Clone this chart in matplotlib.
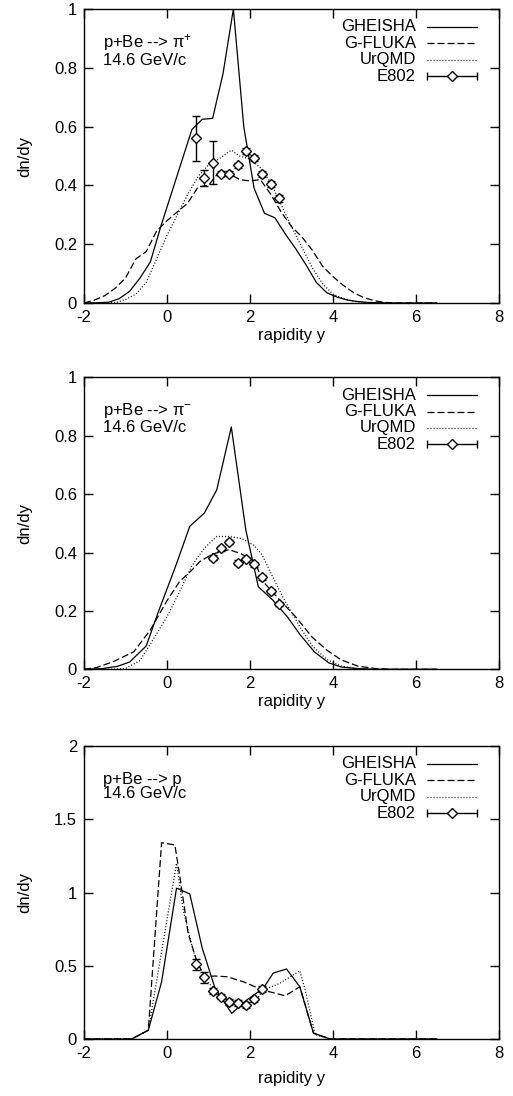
import numpy as np
import matplotlib
matplotlib.use('Agg')
import matplotlib.pyplot as plt
from matplotlib.ticker import FuncFormatter

plt.rcParams['font.family'] = ['Liberation Sans', 'DejaVu Sans']
plt.rcParams['mathtext.fontset'] = 'custom'
plt.rcParams['mathtext.rm'] = 'Liberation Sans'
plt.rcParams['mathtext.it'] = 'Liberation Sans:italic'

## ---- p+Be --> pi+ ----
pip_gh_x = [-2.0, -1.65, -1.4, -1.15, -0.9, -0.65, -0.4, -0.15, 0.1, 0.35, 0.6, 0.85, 1.1, 1.35, 1.6,
            1.85, 2.1, 2.35, 2.6, 2.85, 3.1, 3.35, 3.6, 3.85, 4.1, 4.35, 4.6, 4.85, 5.1, 5.5, 6.0, 6.5]
pip_gh_y = [0.0, 0.001, 0.003, 0.015, 0.04, 0.085, 0.14, 0.26, 0.37, 0.48, 0.59, 0.625, 0.628, 0.78, 1.0,
            0.6, 0.39, 0.305, 0.29, 0.235, 0.185, 0.13, 0.07, 0.035, 0.02, 0.01, 0.005, 0.002, 0.001, 0.0, 0.0, 0.0]
pip_gf_x = [-2.0, -1.75, -1.5, -1.25, -1.0, -0.75, -0.5, -0.25, 0.0, 0.25, 0.5, 0.75, 1.0, 1.25, 1.5,
            1.75, 2.0, 2.25, 2.5, 2.75, 3.0, 3.25, 3.5, 3.75, 4.0, 4.25, 4.5, 4.75, 5.0, 5.25, 5.5, 6.5]
pip_gf_y = [0.0, 0.01, 0.025, 0.05, 0.085, 0.15, 0.175, 0.245, 0.28, 0.31, 0.34, 0.395, 0.40, 0.445, 0.44,
            0.42, 0.415, 0.42, 0.37, 0.31, 0.26, 0.225, 0.18, 0.125, 0.09, 0.06, 0.035, 0.018, 0.008, 0.002, 0.0, 0.0]
pip_uq_x = [-2.0, -1.5, -1.2, -1.0, -0.75, -0.5, -0.25, 0.0, 0.25, 0.5, 0.75, 1.0, 1.25, 1.55, 1.75,
            2.0, 2.25, 2.5, 2.75, 3.0, 3.25, 3.5, 3.75, 4.0, 4.25, 4.5, 4.75, 5.0, 6.5]
pip_uq_y = [0.0, 0.0, 0.003, 0.012, 0.03, 0.07, 0.15, 0.23, 0.30, 0.37, 0.43, 0.47, 0.49, 0.52, 0.5,
            0.49, 0.46, 0.41, 0.335, 0.26, 0.19, 0.12, 0.065, 0.03, 0.015, 0.006, 0.002, 0.0, 0.0]
pip_e8_x = [0.7, 0.9, 1.1, 1.3, 1.5, 1.7, 1.9, 2.1, 2.3, 2.5, 2.7]
pip_e8_y = [0.56, 0.425, 0.477, 0.44, 0.44, 0.468, 0.517, 0.494, 0.44, 0.405, 0.357]
pip_e8_err = [0.077, 0.027, 0.073, 0.008, 0.008, 0.008, 0.01, 0.01, 0.01, 0.01, 0.012]

## ---- p+Be --> pi- ----
pim_gh_x = [-2.0, -1.6, -1.2, -0.9, -0.5, -0.2, 0.2, 0.55, 0.9, 1.2, 1.55, 1.9, 2.2, 2.55, 2.9,
            3.2, 3.55, 3.9, 4.2, 4.55, 5.0, 5.5, 6.0, 6.5]
pim_gh_y = [0.0, 0.002, 0.01, 0.025, 0.08, 0.2, 0.35, 0.49, 0.535, 0.615, 0.83, 0.477, 0.283, 0.237, 0.18,
            0.12, 0.06, 0.022, 0.008, 0.003, 0.0, 0.0, 0.0, 0.0]
pim_gf_x = [-2.0, -1.7, -1.3, -0.8, -0.4, 0.0, 0.3, 0.6, 0.8, 1.1, 1.5, 1.8, 2.1, 2.35, 2.7,
            3.1, 3.5, 3.85, 4.2, 4.6, 5.0, 5.4, 6.5]
pim_gf_y = [0.0, 0.006, 0.026, 0.06, 0.135, 0.235, 0.30, 0.34, 0.37, 0.395, 0.41, 0.395, 0.37, 0.295, 0.24,
            0.18, 0.11, 0.066, 0.032, 0.011, 0.003, 0.0, 0.0]
pim_uq_x = [-2.0, -1.3, -1.0, -0.65, -0.3, 0.0, 0.3, 0.6, 0.9, 1.2, 1.5, 1.8, 2.1, 2.3, 2.5,
            2.8, 3.2, 3.5, 3.85, 4.2, 4.6, 5.0, 6.5]
pim_uq_y = [0.0, 0.0, 0.003, 0.03, 0.11, 0.18, 0.265, 0.355, 0.415, 0.455, 0.455, 0.448, 0.425, 0.39, 0.33,
            0.245, 0.146, 0.08, 0.034, 0.011, 0.002, 0.0, 0.0]
pim_e8_x = [1.1, 1.3, 1.5, 1.7, 1.9, 2.1, 2.3, 2.5, 2.7]
pim_e8_y = [0.383, 0.414, 0.436, 0.365, 0.377, 0.36, 0.315, 0.268, 0.224]
pim_e8_err = [0.008, 0.008, 0.008, 0.008, 0.008, 0.008, 0.008, 0.008, 0.008]

## ---- p+Be --> p ----
pr_gh_x = [-2.0, -0.85, -0.45, -0.13, 0.23, 0.55, 0.85, 1.16, 1.56, 1.92, 2.32, 2.56, 2.88, 3.2, 3.53, 3.93, 6.5]
pr_gh_y = [0.0, 0.0, 0.06, 0.39, 1.03, 0.99, 0.62, 0.345, 0.175, 0.266, 0.346, 0.45, 0.478, 0.357, 0.04, 0.0, 0.0]
pr_gf_x = [-2.0, -0.85, -0.45, -0.13, 0.19, 0.31, 0.51, 0.71, 0.9, 1.15, 1.45, 1.85, 2.3, 2.85, 3.2, 3.53, 3.93, 6.5]
pr_gf_y = [0.0, 0.0, 0.06, 1.34, 1.325, 1.11, 0.72, 0.54, 0.425, 0.43, 0.425, 0.39, 0.335, 0.295, 0.357, 0.04, 0.0, 0.0]
pr_uq_x = [-2.0, -0.85, -0.45, 0.23, 0.39, 0.59, 0.71, 0.95, 1.2, 1.52, 1.84, 2.16, 2.32, 2.72, 3.2, 3.33, 3.57, 3.93, 6.5]
pr_uq_y = [0.0, 0.0, 0.06, 1.2, 0.88, 0.65, 0.53, 0.4, 0.32, 0.255, 0.24, 0.27, 0.335, 0.38, 0.466, 0.335, 0.03, 0.0, 0.0]
pr_e8_x = [0.7, 0.9, 1.1, 1.3, 1.5, 1.7, 1.9, 2.1, 2.3]
pr_e8_y = [0.51, 0.42, 0.33, 0.29, 0.25, 0.245, 0.235, 0.27, 0.34]
pr_e8_err = [0.036, 0.035, 0.02, 0.02, 0.02, 0.02, 0.02, 0.02, 0.02]

titles = [u'p+Be --> \u03c0$^{+}$', u'p+Be --> \u03c0$^{-}$', 'p+Be --> p']
ymax = [1.0, 1.0, 2.0]
ystep = [0.2, 0.2, 0.5]
xlab_off = [-0.085, -0.085, -0.11]

LW = 0.9
DASH = (5.6, 2.4)
DOT = (0.8, 1.6)
FS = 12
MS = 5.0


def draw_panel(ax, gh, gf, uq, e8, title, top, step, xoff):
    ax.plot(gh[0], gh[1], color='k', lw=LW)
    ax.plot(gf[0], gf[1], color='k', lw=LW, dashes=DASH)
    ax.plot(uq[0], uq[1], color='k', lw=LW, dashes=DOT)
    ax.errorbar(e8[0], e8[1], yerr=e8[2], fmt='D', ms=MS, mfc='white', mec='k', mew=1.0,
                ecolor='k', elinewidth=1.0, capsize=3.2, capthick=1.0, zorder=5)

    ax.set_xlim(-2, 8)
    ax.set_ylim(0, top)
    ax.set_xticks(np.arange(-2, 9, 2))
    ax.set_yticks(np.arange(0, top + 0.001, step))
    fmt = FuncFormatter(lambda v, p: '%g' % v)
    ax.xaxis.set_major_formatter(fmt)
    ax.yaxis.set_major_formatter(fmt)
    ax.tick_params(direction='in', length=6.5, width=1.0, top=True, right=True,
                   labelsize=FS, pad=5)
    for s in ax.spines.values():
        s.set_linewidth(1.0)

    ax.set_xlabel('rapidity y', fontsize=FS)
    ax.set_ylabel('dn/dy', fontsize=FS)
    ax.xaxis.set_label_coords(0.5, xoff)
    ax.yaxis.set_label_coords(-0.125, 0.5)

    ax.text(0.046, 0.861, title + '\n14.6 GeV/c', transform=ax.transAxes, fontsize=FS,
            va='center', ha='left', linespacing=0.95)

    # gnuplot style key, text right aligned, sample on the right
    keys = ['GHEISHA', 'G-FLUKA', 'UrQMD', 'E802']
    rows = [0.939, 0.883, 0.827, 0.771]
    for k, r in zip(keys, rows):
        ax.text(0.80, r, k, transform=ax.transAxes, fontsize=FS, ha='right', va='center')
    ax.plot([0.826, 0.947], [rows[0]] * 2, transform=ax.transAxes, color='k', lw=LW)
    ax.plot([0.826, 0.947], [rows[1]] * 2, transform=ax.transAxes, color='k', lw=LW, dashes=DASH)
    ax.plot([0.826, 0.947], [rows[2]] * 2, transform=ax.transAxes, color='k', lw=LW, dashes=DOT)
    ax.errorbar([0.8865], [rows[3]], xerr=[0.0605], transform=ax.transAxes, fmt='D', ms=MS,
                mfc='white', mec='k', mew=1.0, ecolor='k', elinewidth=1.0, capsize=2.9, capthick=1.0)


fig = plt.figure(figsize=(5.13, 10.96), dpi=100)
boxes = [[0.1637, 0.7235, 0.809, 0.2683],
         [0.1637, 0.3893, 0.809, 0.2664],
         [0.1637, 0.0520, 0.809, 0.2673]]

data = [
    ((pip_gh_x, pip_gh_y), (pip_gf_x, pip_gf_y), (pip_uq_x, pip_uq_y), (pip_e8_x, pip_e8_y, pip_e8_err)),
    ((pim_gh_x, pim_gh_y), (pim_gf_x, pim_gf_y), (pim_uq_x, pim_uq_y), (pim_e8_x, pim_e8_y, pim_e8_err)),
    ((pr_gh_x, pr_gh_y), (pr_gf_x, pr_gf_y), (pr_uq_x, pr_uq_y), (pr_e8_x, pr_e8_y, pr_e8_err)),
]

for i in range(3):
    ax = fig.add_axes(boxes[i])
    gh, gf, uq, e8 = data[i]
    draw_panel(ax, gh, gf, uq, e8, titles[i], ymax[i], ystep[i], xlab_off[i])

fig.savefig('out.png', dpi=100)
